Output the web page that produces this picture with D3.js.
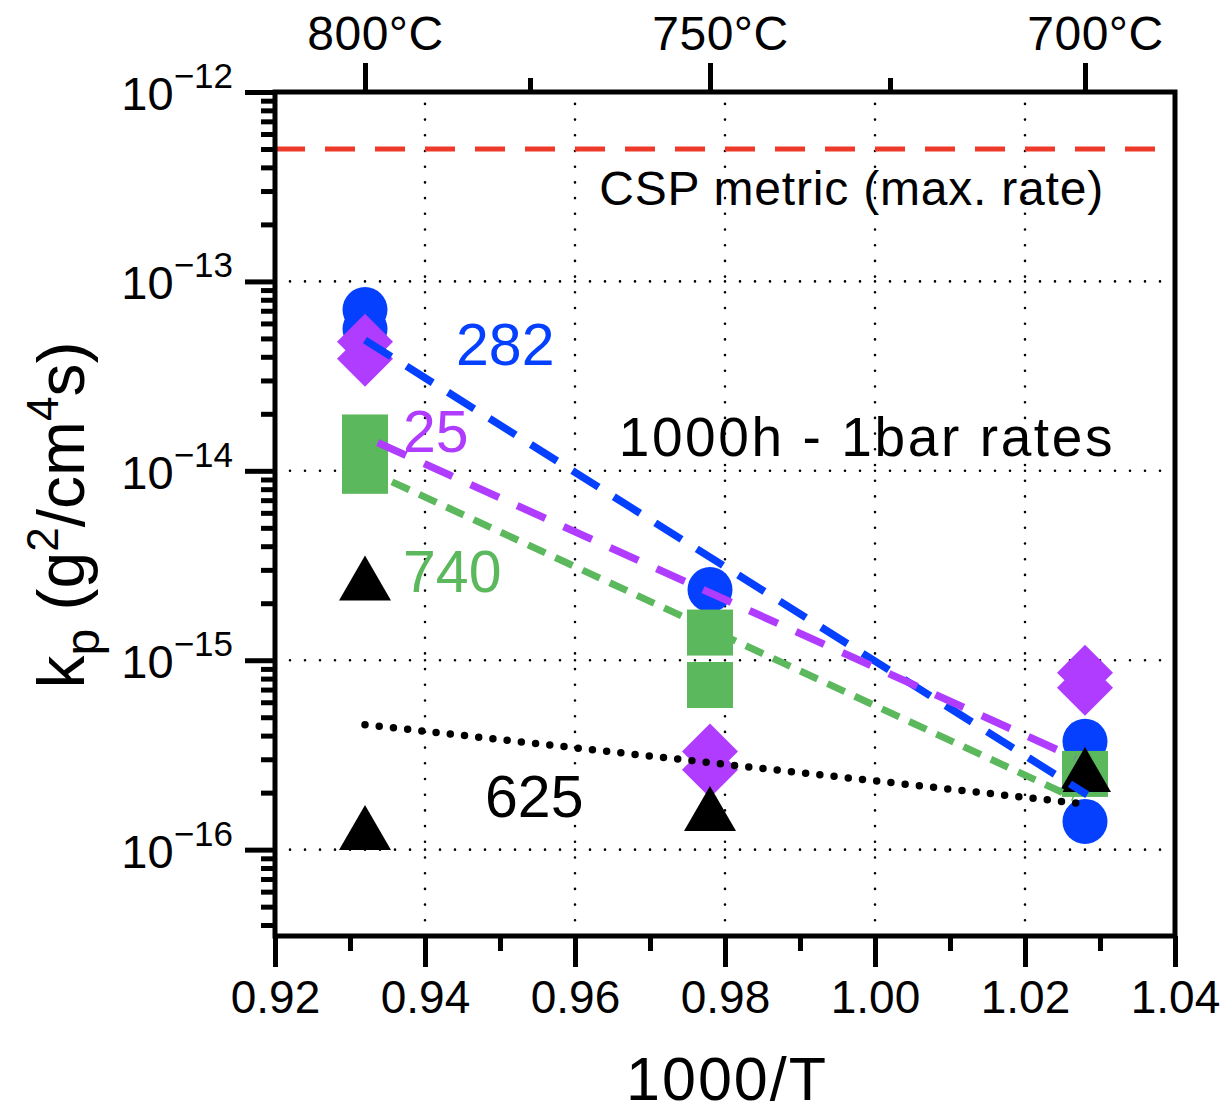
<!DOCTYPE html>
<html>
<head>
<meta charset="utf-8">
<script src="https://cdn.jsdelivr.net/npm/d3@7"></script>
<style>
  body { margin: 0; background: #fff; }
  text { font-family: "Liberation Sans", Arial, Helvetica, sans-serif; }
</style>
</head>
<body>
<div id="chart"></div>
<script>
// temperatures (top axis), as 1000/T
var tempX = [0.932, 0.978, 1.028]
var tempLabels = ["800°C", "750°C", "700°C"]
var tempMinorX = [0.954, 1.002]

// bottom axis ticks
var xMajor = [0.92, 0.94, 0.96, 0.98, 1.00, 1.02, 1.04]
var xMinor = [0.93, 0.95, 0.97, 0.99, 1.01, 1.03]
var xGrid = [0.94, 0.96, 0.98, 1.00, 1.02]
var yDecades = [1e-12, 1e-13, 1e-14, 1e-15, 1e-16]
var yExp = ["−12", "−13", "−14", "−15", "−16"]
var yGrid = [1e-13, 1e-14, 1e-15, 1e-16]

// kp data, g^2/cm^4 s
var blueX = [0.932, 0.932, 0.978, 1.028, 1.028]
var blueY = [7.1e-14, 5.6e-14, 2.36e-15, 3.73e-16, 1.41e-16]
var purpleX = [0.932, 0.932, 0.978, 0.978, 1.028, 1.028]
var purpleY = [4.8e-14, 3.9e-14, 3.3e-16, 2.64e-16, 8.6e-16, 7.16e-16]
var greenX = [0.932, 0.932, 0.978, 0.978, 1.028]
var greenY = [1.5e-14, 1.0e-14, 1.4e-15, 7.4e-16, 2.51e-16]
var blackX = [0.932, 0.932, 0.978, 1.028]
var blackY = [2.7e-15, 1.3e-16, 1.64e-16, 2.63e-16]

// Arrhenius fits (start, end)
var blueFitX = [0.932, 1.0283], blueFitY = [4.9e-14, 1.95e-16]
var purpleFitX = [0.9337, 1.0267], purpleFitY = [1.41e-14, 3.05e-16]
var greenFitX = [0.9356, 1.0265], greenFitY = [8.75e-15, 1.88e-16]
var blackFitX = [0.932, 1.0275], blackFitY = [4.57e-16, 1.75e-16]

var cspMetric = 5e-13

var width = 1230, height = 1115
var padL = 275, padR = 1175, padT = 92, padB = 936

var svg = d3.select("#chart").append("svg")
    .attr("width", width).attr("height", height)

var x = d3.scaleLinear().domain([0.92, 1.04]).range([padL, padR])
var y = d3.scaleLog().domain([3.5e-17, 1e-12]).range([padB, padT])

// grid
svg.append("g").selectAll("line").data(xGrid).enter().append("line")
    .attr("x1", function(d){ return x(d) }).attr("x2", function(d){ return x(d) })
    .attr("y1", padB).attr("y2", padT)
    .attr("stroke", "#000").attr("stroke-width", 2.6)
    .attr("stroke-linecap", "round").attr("stroke-dasharray", "0 15.7")
svg.append("g").selectAll("line").data(yGrid).enter().append("line")
    .attr("x1", padL).attr("x2", padR)
    .attr("y1", function(d){ return y(d) }).attr("y2", function(d){ return y(d) })
    .attr("stroke", "#000").attr("stroke-width", 2.6)
    .attr("stroke-linecap", "round").attr("stroke-dasharray", "0 15")

// CSP metric line
svg.append("line")
    .attr("x1", padL).attr("x2", padR)
    .attr("y1", y(cspMetric)).attr("y2", y(cspMetric))
    .attr("stroke", "#ee3a2a").attr("stroke-width", 5)
    .attr("stroke-dasharray", "30 20")
svg.append("text").text("CSP metric (max. rate)")
    .attr("x", 1104).attr("y", 205).attr("text-anchor", "end")
    .attr("font-size", 48).attr("letter-spacing", 0.8)

// markers
function pts(xs, ys){ return xs.map(function(v,i){ return [v, ys[i]] }) }

svg.append("g").selectAll("circle").data(pts(blueX, blueY)).enter().append("circle")
    .attr("cx", function(d){ return x(d[0]) }).attr("cy", function(d){ return y(d[1]) })
    .attr("r", 22.5).attr("fill", "#0540ff")

svg.append("g").selectAll("path").data(pts(purpleX, purpleY)).enter().append("path")
    .attr("transform", function(d){ return "translate(" + x(d[0]) + "," + y(d[1]) + ")" })
    .attr("d", "M0,-28L28,0L0,28L-28,0Z").attr("fill", "#b03cff")

svg.append("g").selectAll("rect").data(pts(greenX, greenY)).enter().append("rect")
    .attr("x", function(d){ return x(d[0]) - 23 }).attr("y", function(d){ return y(d[1]) - 23 })
    .attr("width", 46).attr("height", 46).attr("fill", "#5cb85c")

svg.append("g").selectAll("path").data(pts(blackX, blackY)).enter().append("path")
    .attr("transform", function(d){ return "translate(" + x(d[0]) + "," + y(d[1]) + ")" })
    .attr("d", "M0,-23L26,22L-26,22Z").attr("fill", "#000")

// fit lines
var line = d3.line().x(function(d){ return x(d[0]) }).y(function(d){ return y(d[1]) })
svg.append("path").datum(pts(blueFitX, blueFitY)).attr("d", line)
    .attr("fill", "none").attr("stroke", "#0540ff").attr("stroke-width", 7.5)
    .attr("stroke-dasharray", "31 18")
svg.append("path").datum(pts(purpleFitX, purpleFitY)).attr("d", line)
    .attr("fill", "none").attr("stroke", "#b03cff").attr("stroke-width", 7.5)
    .attr("stroke-dasharray", "31 20")
svg.append("path").datum(pts(greenFitX, greenFitY)).attr("d", line)
    .attr("fill", "none").attr("stroke", "#5cb85c").attr("stroke-width", 7)
    .attr("stroke-dasharray", "19 11")
svg.append("path").datum(pts(blackFitX, blackFitY)).attr("d", line)
    .attr("fill", "none").attr("stroke", "#000").attr("stroke-width", 7.5)
    .attr("stroke-linecap", "round").attr("stroke-dasharray", "0 14.3")

// series labels (activation energies)
svg.append("text").text("282").attr("x", 456).attr("y", 365).attr("font-size", 59).attr("fill", "#0540ff")
svg.append("text").text("25").attr("x", 403).attr("y", 452).attr("font-size", 59).attr("fill", "#b03cff")
svg.append("text").text("740").attr("x", 403).attr("y", 592).attr("font-size", 59).attr("fill", "#5cb85c")
svg.append("text").text("625").attr("x", 485).attr("y", 817).attr("font-size", 59).attr("fill", "#000")

svg.append("text").text("1000h - 1bar rates")
    .attr("x", 1115).attr("y", 456).attr("text-anchor", "end")
    .attr("font-size", 55).attr("letter-spacing", 2.6)

// axes
function noDomain(g){ g.select(".domain").remove() }
function fatTicks(g){ g.selectAll(".tick line").attr("stroke", "#000").attr("stroke-width", 5) }

var yMinor = []
for (var e = -17; e <= -13; e++) {
  for (var m = 2; m <= 9; m++) {
    var v = m * Math.pow(10, e)
    if (v >= 3.5e-17 && v <= 1e-12) yMinor.push(v)
  }
}

svg.append("g").attr("transform", "translate(" + padL + ",0)")
    .call(d3.axisLeft(y).tickValues(yMinor).tickSize(14).tickFormat(""))
    .call(noDomain).call(fatTicks)
svg.append("g").attr("transform", "translate(" + padL + ",0)")
    .call(d3.axisLeft(y).tickValues(yDecades).tickSize(30).tickFormat(""))
    .call(noDomain).call(fatTicks)

var yLab = svg.append("g").selectAll("text").data(yDecades).enter().append("text")
    .attr("x", 233).attr("y", function(d){ return y(d) + 18 })
    .attr("text-anchor", "end").attr("font-size", 47)
yLab.append("tspan").text("10")
yLab.append("tspan").text(function(d,i){ return yExp[i] }).attr("font-size", 35).attr("dy", -22)

svg.append("g").attr("transform", "translate(0," + padB + ")")
    .call(d3.axisBottom(x).tickValues(xMinor).tickSize(15).tickFormat(""))
    .call(noDomain).call(fatTicks)
svg.append("g").attr("transform", "translate(0," + padB + ")")
    .call(d3.axisBottom(x).tickValues(xMajor).tickSize(31).tickFormat(d3.format(".2f")))
    .call(noDomain).call(fatTicks)
    .call(function(g){
      g.selectAll(".tick text").attr("y", 77).attr("dy", 0)
        .attr("font-size", 46).attr("fill", "#000")
        .attr("font-family", "Liberation Sans, Arial, sans-serif")
    })

svg.append("g").attr("transform", "translate(0," + padT + ")")
    .call(d3.axisTop(x).tickValues(tempMinorX).tickSize(14).tickFormat(""))
    .call(noDomain).call(fatTicks)
svg.append("g").attr("transform", "translate(0," + padT + ")")
    .call(d3.axisTop(x).tickValues(tempX).tickSize(29).tickFormat(function(d,i){ return tempLabels[i] }))
    .call(noDomain).call(fatTicks)
    .call(function(g){
      g.selectAll(".tick text").attr("y", -42).attr("dy", 0).attr("dx", 10)
        .attr("font-size", 48).attr("letter-spacing", 0.5).attr("fill", "#000")
        .attr("font-family", "Liberation Sans, Arial, sans-serif")
    })

// frame
svg.append("rect").attr("x", padL).attr("y", padT)
    .attr("width", padR - padL).attr("height", padB - padT)
    .attr("fill", "none").attr("stroke", "#000").attr("stroke-width", 5)

// axis titles
svg.append("text").text("1000/T")
    .attr("x", 727).attr("y", 1100).attr("text-anchor", "middle")
    .attr("font-size", 61).attr("letter-spacing", 2)

var yt = svg.append("text")
    .attr("transform", "translate(84,515) rotate(-90)")
    .attr("text-anchor", "middle").attr("font-size", 66)
yt.append("tspan").text("k")
yt.append("tspan").text("p").attr("font-size", 48).attr("dy", 15)
yt.append("tspan").text(" (g").attr("dy", -15)
yt.append("tspan").text("2").attr("font-size", 44).attr("dy", -26)
yt.append("tspan").text("/cm").attr("dy", 26)
yt.append("tspan").text("4").attr("font-size", 44).attr("dy", -26)
yt.append("tspan").text("s)").attr("dy", 26)
</script>
</body>
</html>
